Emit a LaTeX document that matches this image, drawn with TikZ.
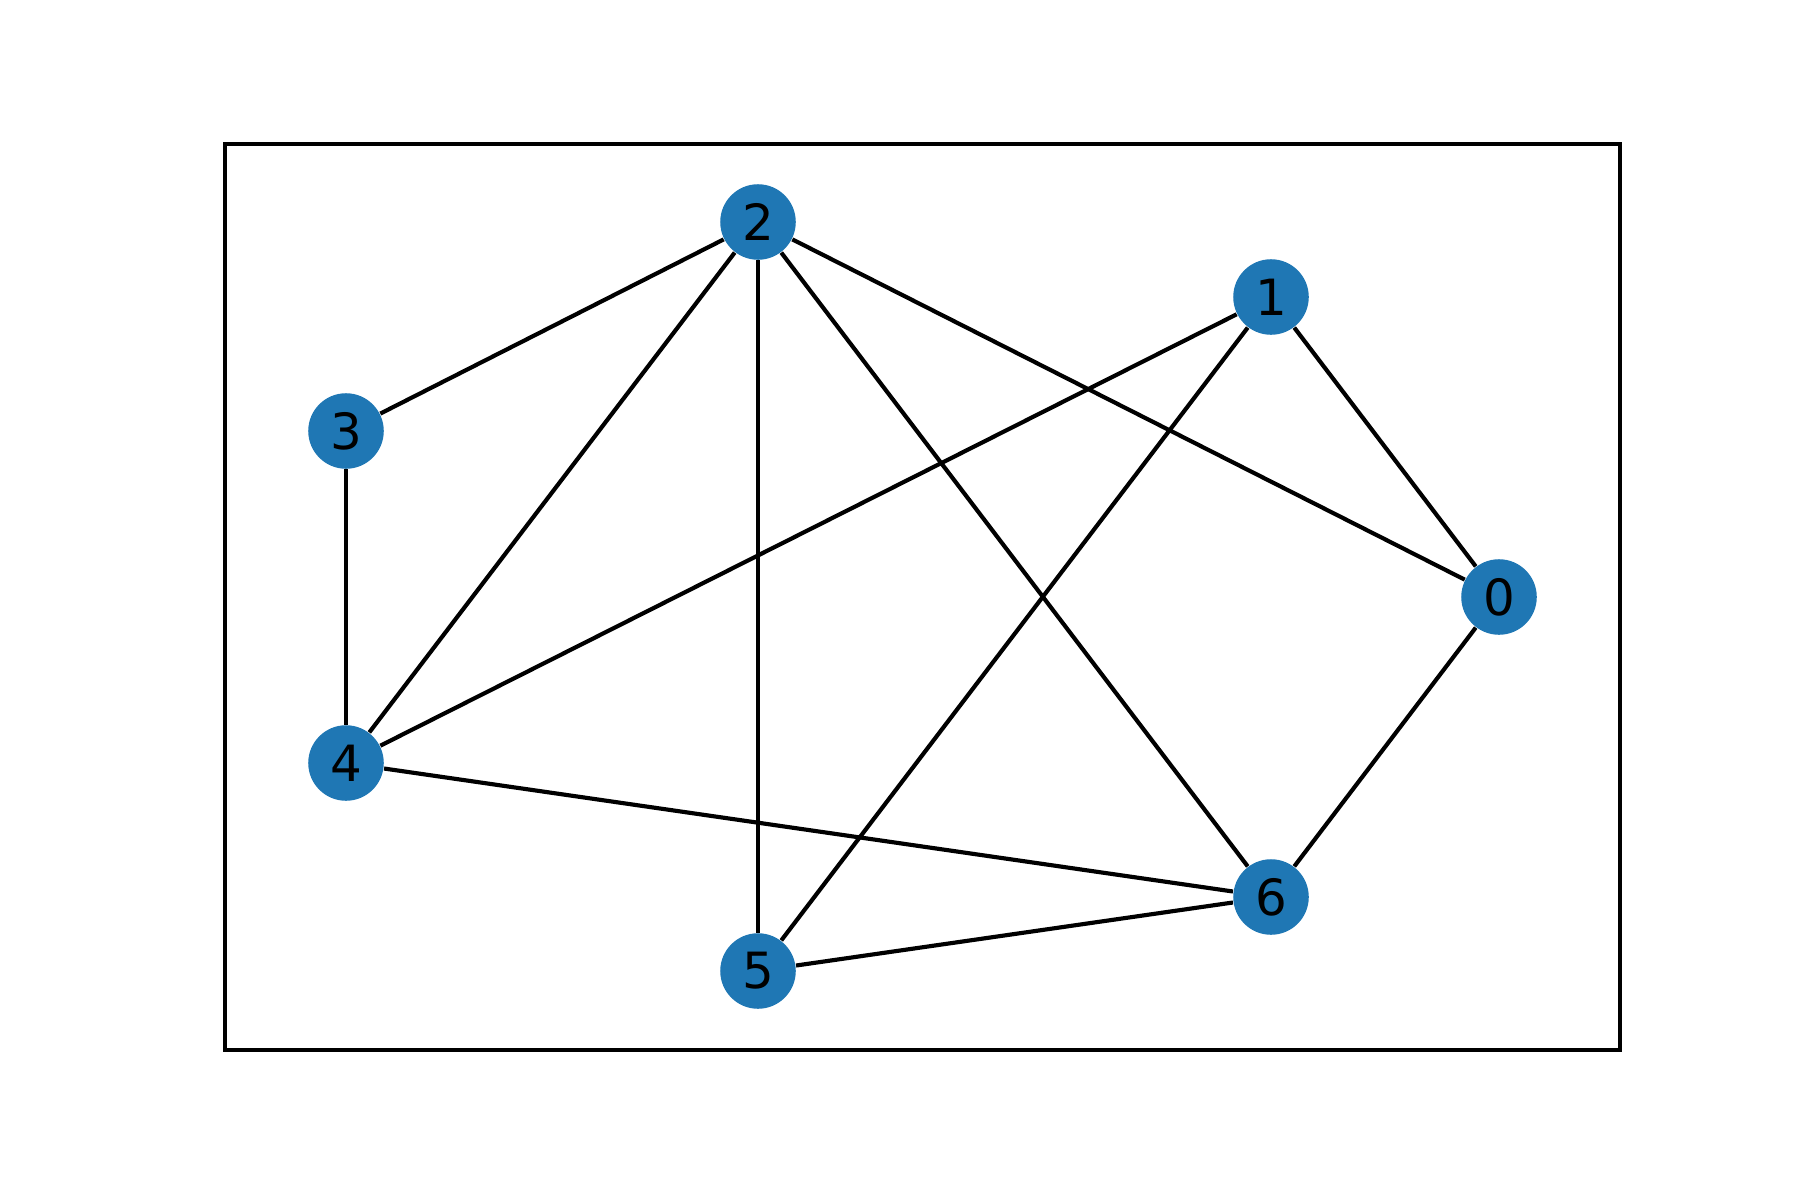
\documentclass[tikz,border=0pt]{standalone}
\usepackage{fontspec}
\setmainfont{DejaVu Sans}
\usepackage{xcolor}
\usetikzlibrary{backgrounds}

\definecolor{nodeblue}{HTML}{1F77B4}

\begin{document}
\begin{tikzpicture}[
  x=0.01cm, y=-0.01cm,
  vert/.style={circle, fill=nodeblue, draw=none, inner sep=0pt,
               minimum size=0.755cm, font=\fontsize{14.2}{16}\selectfont},
  edge/.style={line width=1.18pt, black},
  frame/.style={line width=0.95pt, black}
]
\useasboundingbox (0,0) rectangle (1800,1200);

% Axes frame
\draw[frame] (225,144) rectangle (1620,1050);

% Vertices
\node[vert] (n0) at (1499,597) {0};
\node[vert] (n1) at (1271,297) {1};
\node[vert] (n2) at (758,222)  {2};
\node[vert] (n3) at (346,431)  {3};
\node[vert] (n4) at (346,763)  {4};
\node[vert] (n5) at (758,971)  {5};
\node[vert] (n6) at (1271,897) {6};

% Edges
\begin{scope}[on background layer]
\draw[edge] (n2) -- (n3);
\draw[edge] (n2) -- (n4);
\draw[edge] (n2) -- (n5);
\draw[edge] (n2) -- (n6);
\draw[edge] (n2) -- (n0);
\draw[edge] (n1) -- (n4);
\draw[edge] (n1) -- (n5);
\draw[edge] (n1) -- (n0);
\draw[edge] (n3) -- (n4);
\draw[edge] (n4) -- (n6);
\draw[edge] (n5) -- (n6);
\draw[edge] (n6) -- (n0);
\end{scope}

\end{tikzpicture}
\end{document}
